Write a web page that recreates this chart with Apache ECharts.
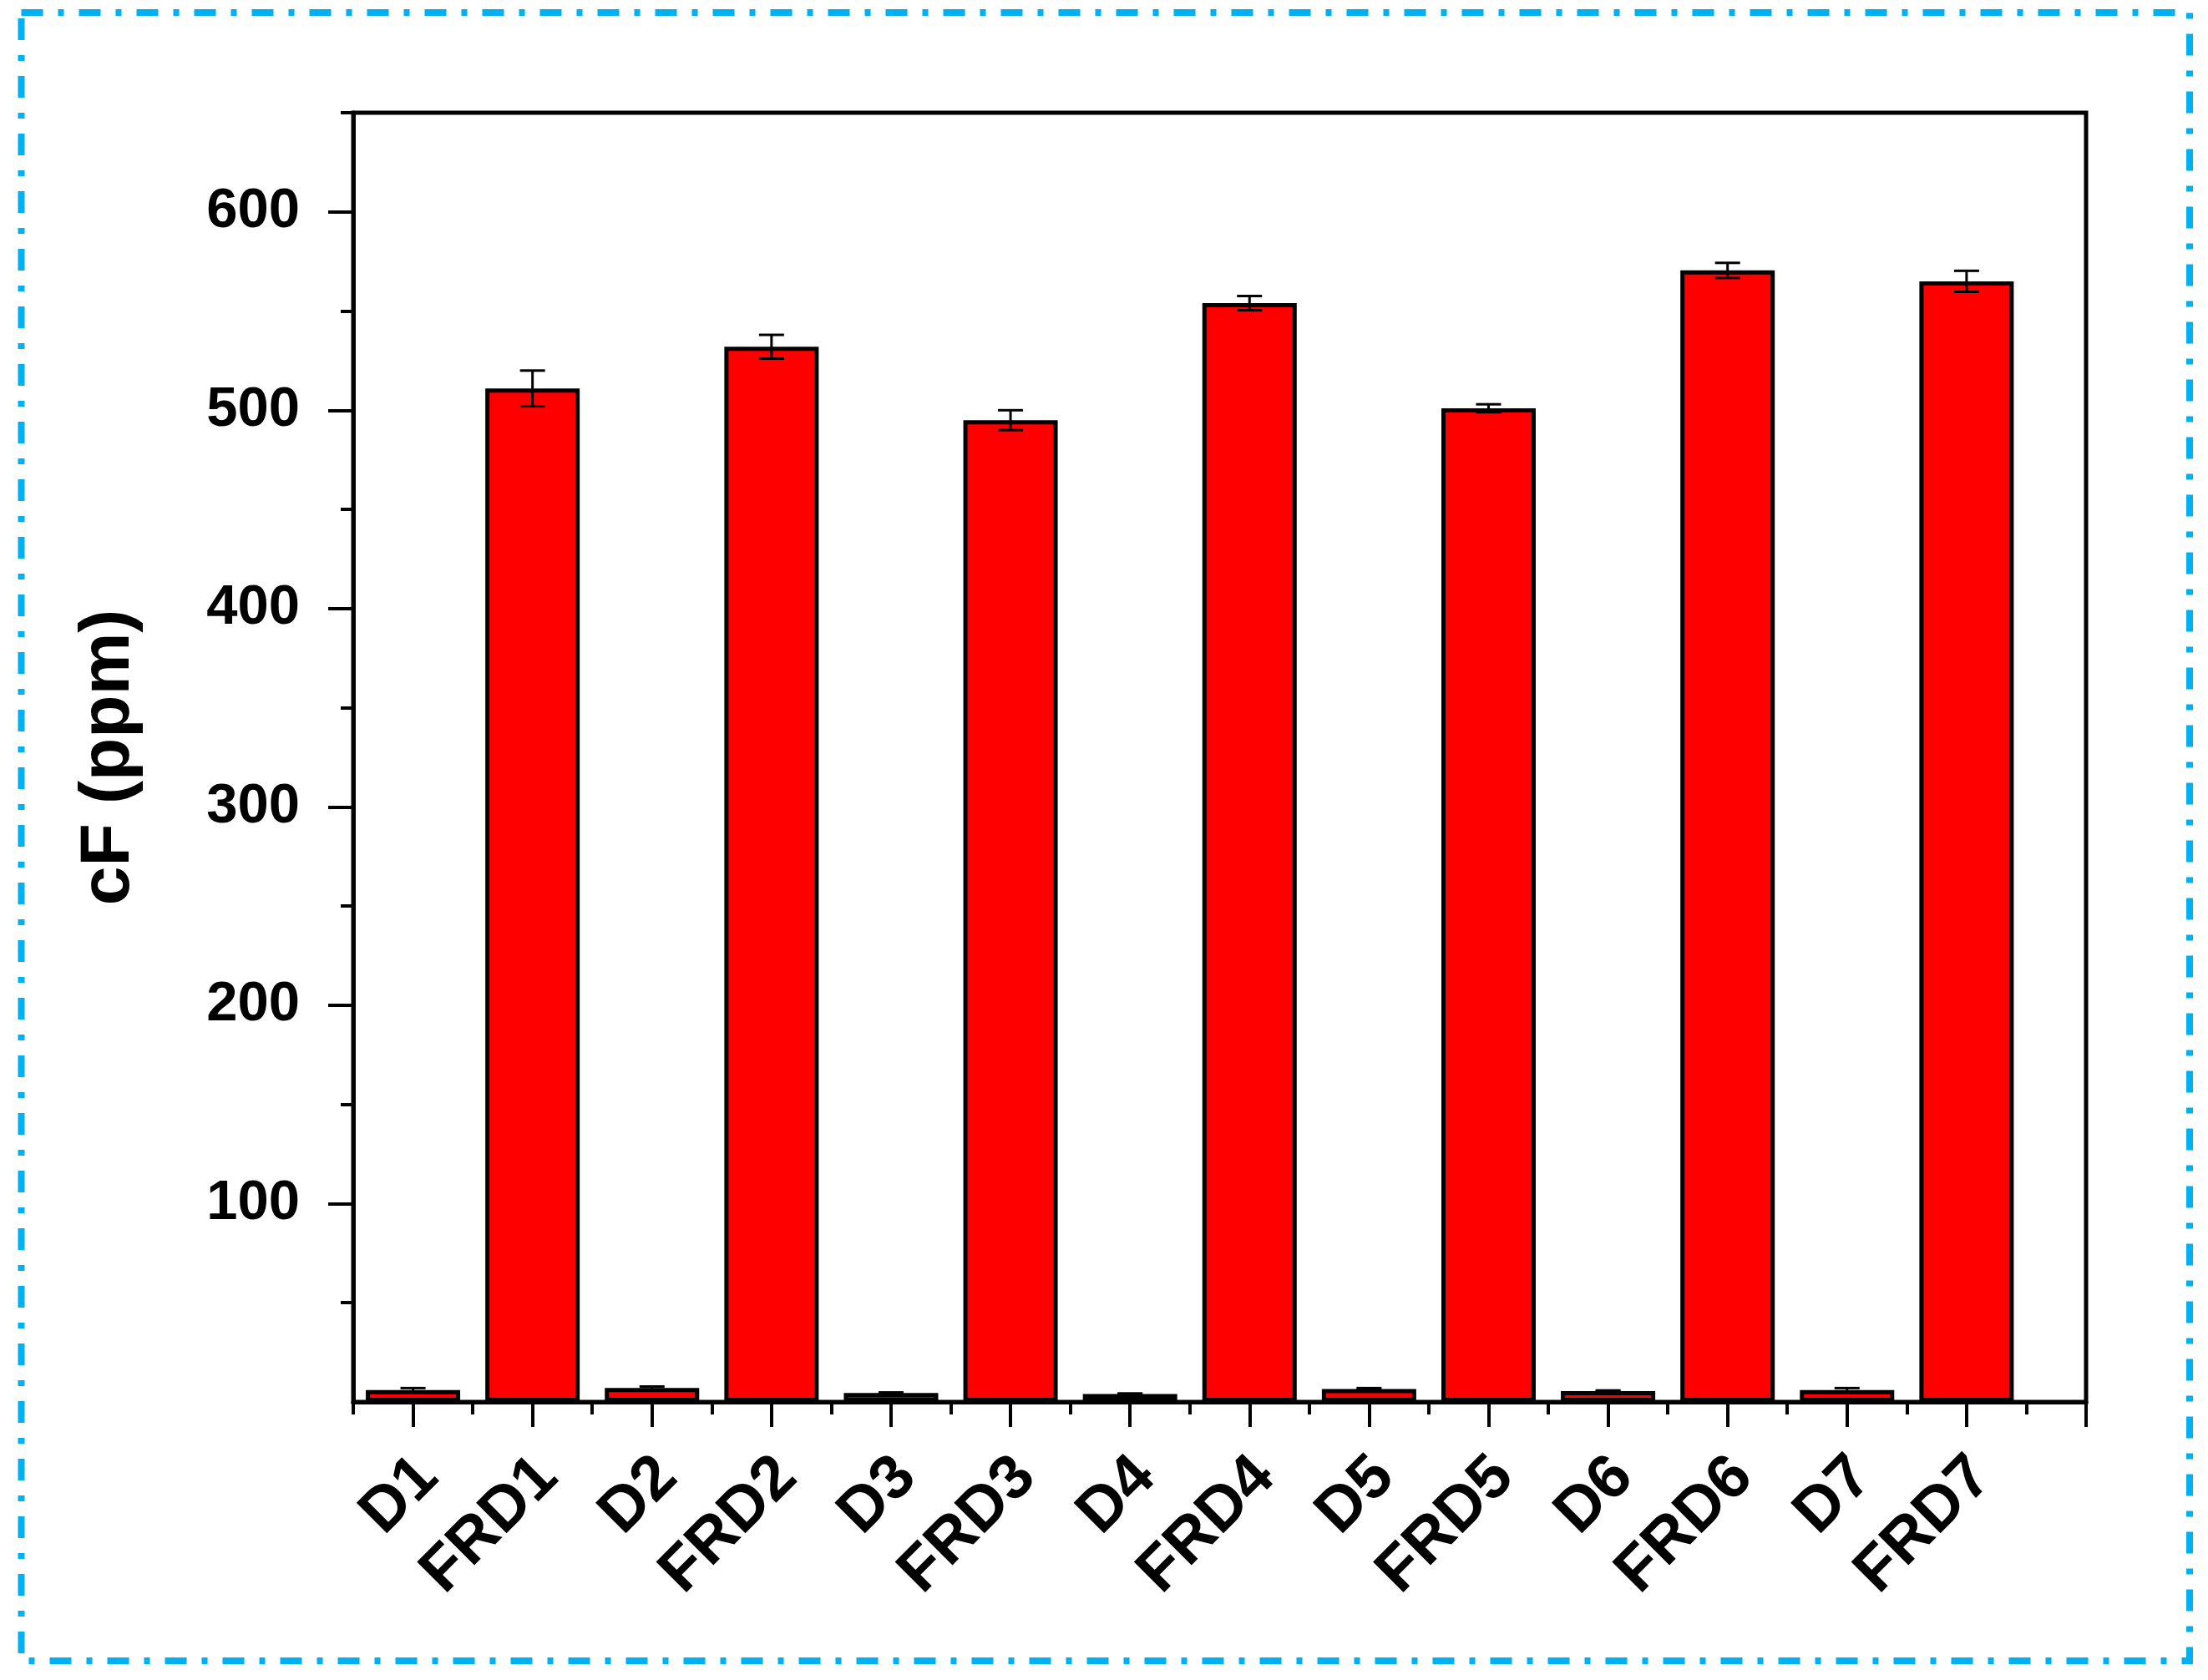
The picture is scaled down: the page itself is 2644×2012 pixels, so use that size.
<!DOCTYPE html>
<html>
<head>
<meta charset="utf-8">
<script src="https://cdn.jsdelivr.net/npm/echarts@6/dist/echarts.min.js"></script>
<style>html,body{margin:0;padding:0;background:#fff;}#c{width:2644px;height:2012px;}</style>
</head>
<body>
<div id="c"></div>
<script>
// ---- data ----
const categories = ['D1','FRD1','D2','FRD2','D3','FRD3','D4','FRD4','D5','FRD5','D6','FRD6','D7','FRD7'];
const values     = [6, 511, 7, 532, 4.5, 495, 4, 554, 6.5, 501, 5.5, 570.5, 6, 565];
const errors     = [1, 9, 0.8, 6, 0.3, 5, 0.3, 3.6, 0.5, 2, 0.3, 3.8, 1, 5.3];
const yMajorTicks = [100, 200, 300, 400, 500, 600];
const yMinorTicks = [50, 150, 250, 350, 450, 550, 650];
const xMajorTicks = [1, 2, 3, 4, 5, 6, 7, 8, 9, 10, 11, 12, 13, 14, 15];
const xMinorTicks = [0.5, 1.5, 2.5, 3.5, 4.5, 5.5, 6.5, 7.5, 8.5, 9.5, 10.5, 11.5, 12.5, 13.5, 14.5];
const xLabelPositions = [1, 2, 3, 4, 5, 6, 7, 8, 9, 10, 11, 12, 13, 14];
const yTitle = 'cF (ppm)';

const FONT = '"Liberation Sans", Arial, sans-serif';
const barData = categories.map((c, i) => [i + 1, values[i]]);
const errData = categories.map((c, i) => [i + 1, values[i], errors[i]]);

const chart = echarts.init(document.getElementById('c'), null, {renderer: 'canvas'});
chart.setOption({
  backgroundColor: '#ffffff',
  animation: false,
  graphic: [{
    type: 'rect',
    shape: {x: 25.5, y: 15, width: 2596.5, height: 1974},
    style: {fill: 'none', stroke: '#00B0F0', lineWidth: 8, lineDash: [26, 18, 7, 18]},
    silent: true, z: 100
  }],
  grid: {left: 423, right: 146, top: 135, bottom: 333, show: true, borderColor: '#000', borderWidth: 5, backgroundColor: 'transparent'},
  xAxis: [{
    type: 'value', min: 0.5, max: 15, interval: 0.5,
    position: 'bottom',
    splitLine: {show: false},
    axisLine: {show: true, onZero: false, lineStyle: {color: '#000', width: 5}},
    axisTick: {show: true, inside: false, length: 30, customValues: xMajorTicks, lineStyle: {color: '#000', width: 4}},
    axisLabel: {
      show: true, customValues: xLabelPositions, rotate: 45, margin: 60, verticalAlign: 'top', lineHeight: 52,
      fontFamily: FONT, fontWeight: 'bold', fontSize: 75, color: '#000',
      formatter: v => categories[Math.round(v) - 1] || ''
    }
  }, {
    type: 'value', min: 0.5, max: 15, interval: 0.5,
    position: 'bottom',
    splitLine: {show: false},
    axisLine: {show: false, onZero: false},
    axisTick: {show: true, inside: false, length: 15, customValues: xMinorTicks, lineStyle: {color: '#000', width: 4}},
    axisLabel: {show: false}
  }],
  yAxis: [{
    type: 'value', min: 0, max: 650, interval: 50,
    position: 'left',
    name: yTitle, nameLocation: 'middle', nameGap: 250,
    nameTextStyle: {fontFamily: FONT, fontWeight: 'bold', fontSize: 84, color: '#000'},
    splitLine: {show: false},
    axisLine: {show: true, onZero: false, lineStyle: {color: '#000', width: 5}},
    axisTick: {show: true, inside: false, length: 30, customValues: yMajorTicks, lineStyle: {color: '#000', width: 4}},
    axisLabel: {show: true, customValues: yMajorTicks, margin: 64, fontFamily: FONT, fontWeight: 'bold', fontSize: 67, color: '#000'}
  }, {
    type: 'value', min: 0, max: 650, interval: 50,
    position: 'left',
    splitLine: {show: false},
    axisLine: {show: false, onZero: false},
    axisTick: {show: true, inside: false, length: 15, customValues: yMinorTicks, lineStyle: {color: '#000', width: 4}},
    axisLabel: {show: false}
  }],
  series: [{
    type: 'bar',
    xAxisIndex: 0, yAxisIndex: 0,
    data: barData,
    barWidth: 113,
    itemStyle: {color: '#FF0000', borderColor: '#000', borderWidth: 5},
    z: 2
  }, {
    type: 'custom',
    xAxisIndex: 0, yAxisIndex: 0,
    data: errData,
    z: 5,
    renderItem: function (params, api) {
      const x = api.value(0), v = api.value(1), e = api.value(2);
      const top = api.coord([x, v + e]);
      const bot = api.coord([x, v - e]);
      const hw = 15;
      const st = {stroke: '#000', lineWidth: 3};
      return {
        type: 'group',
        children: [
          {type: 'line', shape: {x1: top[0], y1: top[1], x2: bot[0], y2: bot[1]}, style: st},
          {type: 'line', shape: {x1: top[0] - hw, y1: top[1], x2: top[0] + hw, y2: top[1]}, style: st},
          {type: 'line', shape: {x1: bot[0] - hw, y1: bot[1], x2: bot[0] + hw, y2: bot[1]}, style: st}
        ]
      };
    }
  }]
});
</script>
</body>
</html>
